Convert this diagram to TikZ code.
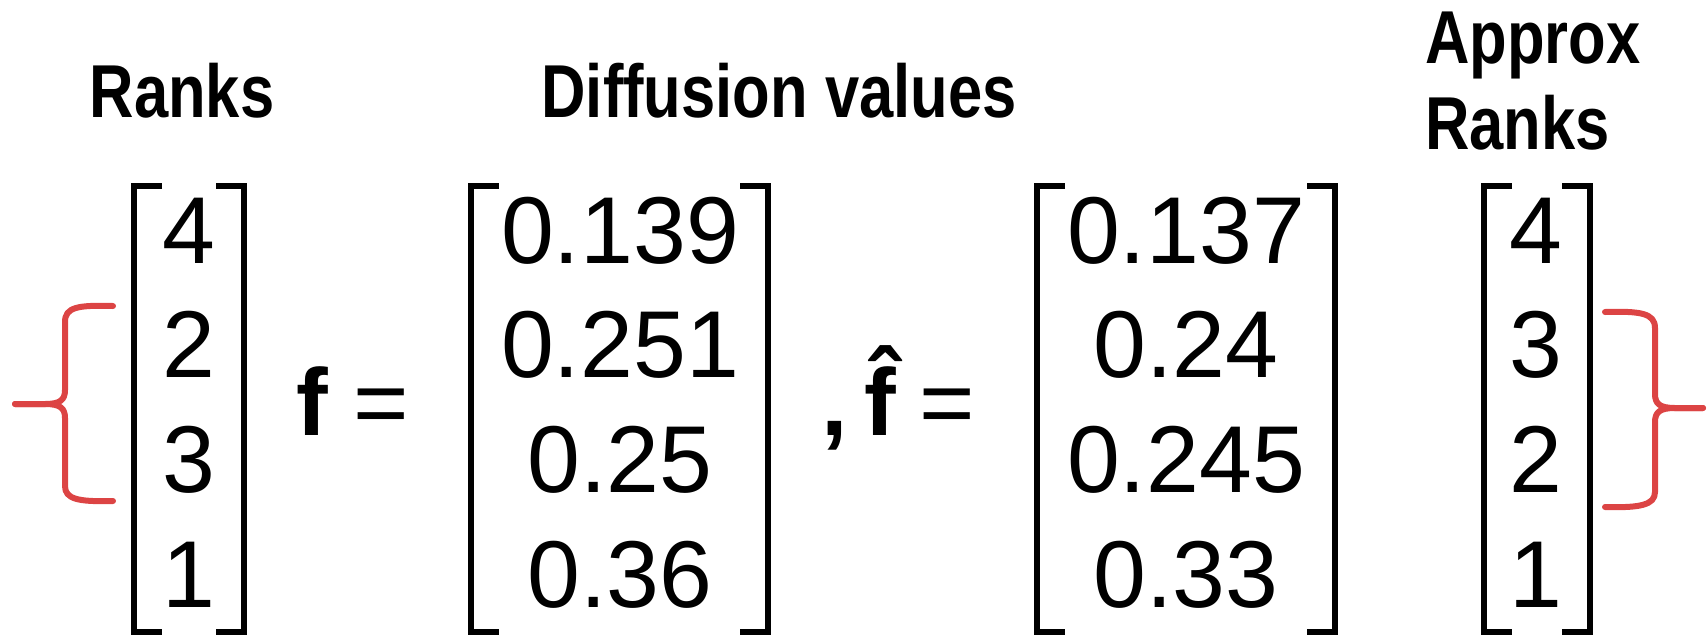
\documentclass[tikz,border=0pt]{standalone}
\usepackage{fontspec}
\setmainfont{Liberation Sans}
\newfontfamily\headfont[FakeStretch=0.82]{Liberation Sans Bold}
\usepackage{tikz}
\usetikzlibrary{positioning}
\definecolor{braceRed}{HTML}{DC4444}

\begin{document}
\begin{tikzpicture}[
    x=1pt, y=-1pt,
    head/.style={font=\headfont\fontsize{75}{86}\selectfont, inner sep=0pt, anchor=base},
    num/.style={font=\fontsize{95}{114}\selectfont, inner sep=0pt, anchor=base},
    sym/.style={font=\fontsize{95}{114}\selectfont, inner sep=0pt, anchor=base west},
    bracket/.style={line width=6.5pt, line join=miter},
    rankbrace/.style={draw=braceRed, line width=6pt, line cap=round, line join=round}
  ]
    \useasboundingbox (0,0) rectangle (1708,638);

    % headings
    \node[head] (ranks) at (182,117) {Ranks};
    \node[head] (diffusion) at (779,117) {Diffusion values};
    \node[head, anchor=north west, align=left] (approx) at (1425,12) {Approx\\Ranks};

    % columns
    \foreach \v [count=\i] in {4,2,3,1}
      \node[num] (rank\i) at (189,{263+114.7*(\i-1)}) {\v};
    \foreach \v [count=\i] in {0.139,0.251,0.25,0.36}
      \node[num] (fval\i) at (620,{263+114.7*(\i-1)}) {\v};
    \foreach \v [count=\i] in {0.137,0.24,0.245,0.33}
      \node[num] (fhatval\i) at (1186,{263+114.7*(\i-1)}) {\v};
    \foreach \v [count=\i] in {4,3,2,1}
      \node[num] (arank\i) at (1536,{263+114.7*(\i-1)}) {\v};

    % brackets
    \foreach \l/\r in {134/244, 471/768, 1037/1335, 1484/1590} {
      \draw[bracket] (\l+28,186) -- (\l,186) -- (\l,632) -- (\l+28,632);
      \draw[bracket] (\r-28,186) -- (\r,186) -- (\r,632) -- (\r-28,632);
    }

    % equations
    \node[sym] (f) at (296,435) {\textbf{f}};
    \node[sym] (eqf) at (353,435) {=};
    \node[sym] (comma) at (821,435) {\textbf{,}};
    \node[sym] (fhat) at (864,435) {\textbf{\^{f}}};
    \node[sym] (eqfhat) at (919,435) {=};

    % swapped ranks
    \draw[rankbrace] (113,306) .. controls (78,305) and (65,307) .. (65,322)
      -- (65,390) .. controls (65,400) and (60,404) .. (45,404) -- (15,404);
    \draw[rankbrace] (15,404) -- (45,404) .. controls (60,404) and (65,408) .. (65,418)
      -- (65,486) .. controls (65,499) and (78,502) .. (113,501);
    \draw[rankbrace] (1605,312) .. controls (1640,311) and (1655,313) .. (1655,328)
      -- (1655,394) .. controls (1655,404) and (1660,408) .. (1675,408) -- (1703,408);
    \draw[rankbrace] (1703,408) -- (1675,408) .. controls (1660,408) and (1655,412) .. (1655,422)
      -- (1655,492) .. controls (1655,505) and (1640,508) .. (1605,507);
  \end{tikzpicture}
\end{document}
